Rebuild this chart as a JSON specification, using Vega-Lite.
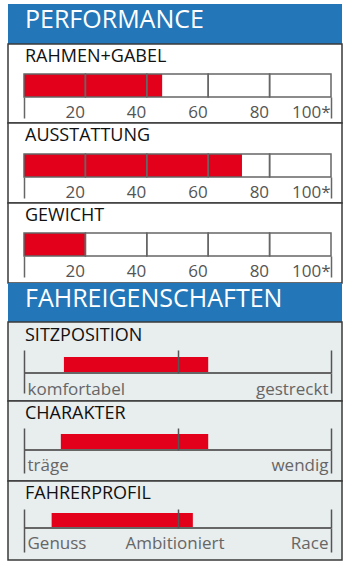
{
  "$schema": "https://vega.github.io/schema/vega-lite/v6.json",
  "padding": {"left": 7, "top": 4, "right": 0, "bottom": 0},
  "background": "white",
  "bounds": "flush",
  "spacing": 0,
  "config": {
    "view": {"stroke": "#3a3a3a", "strokeWidth": 1.5},
    "font": "Open Sans",
    "title": {"font": "Open Sans", "fontWeight": "normal", "anchor": "start", "frame": "group", "orient": "top", "baseline": "alphabetic"}
  },
  "datasets": {
    "headers": [{"section": "PERFORMANCE"}, {"section": "FAHREIGENSCHAFTEN"}],
    "performance": [
      {"metric": "RAHMEN+GABEL", "score": 45},
      {"metric": "AUSSTATTUNG", "score": 71},
      {"metric": "GEWICHT", "score": 20}
    ],
    "grid": [
      {"lo": 0, "hi": 20}, {"lo": 20, "hi": 40}, {"lo": 40, "hi": 60}, {"lo": 60, "hi": 80}, {"lo": 80, "hi": 100}
    ],
    "traits": [
      {"trait": "SITZPOSITION", "from": 13, "to": 60},
      {"trait": "CHARAKTER", "from": 12, "to": 60},
      {"trait": "FAHRERPROFIL", "from": 9, "to": 55}
    ]
  },
  "vconcat": [
    {
      "data": {"name": "headers"},
      "transform": [{"filter": "datum.section == 'PERFORMANCE'"}],
      "width": 334, "height": 40,
      "view": {"fill": "#2377b8"},
      "title": {"text": "PERFORMANCE", "fontSize": 25, "color": "white", "offset": -29, "dx": 17},
      "mark": {"type": "rect", "color": "#2377b8"}
    },
    {
      "width": 334, "height": 79,
      "view": {"fill": "white"},
      "title": {"text": "RAHMEN+GABEL", "fontSize": 18, "color": "#111111", "offset": -22, "dx": 17},
      "resolve": {"axis": {"x": "independent"}},
      "layer": [
        {
          "data": {"name": "performance"},
          "transform": [{"filter": "datum.metric == 'RAHMEN+GABEL'"}],
          "mark": {"type": "bar", "color": "#e2001a"},
          "encoding": {
            "x": {"field": "score", "type": "quantitative",
              "scale": {"domain": [0, 100], "range": [16, 323], "nice": false},
              "axis": {"orient": "bottom", "offset": -26, "values": [0, 20, 40, 60, 80, 100], "domain": false, "grid": false,
                "tickSize": 21, "tickWidth": 1.5, "tickColor": "#666666",
                "tickOpacity": {"condition": {"test": "datum.value == 0 || datum.value == 100", "value": 1}, "value": 0},
                "labelExpr": "datum.value == 0 ? '' : datum.value == 100 ? '100*' : datum.label",
                "labelAlign": "right", "labelBaseline": "alphabetic", "labelPadding": -1, "labelOffset": -1,
                "labelFont": "Open Sans", "labelFontSize": 17, "labelColor": "#555555",
                "labelFlush": false, "labelOverlap": false, "labelBound": false, "title": null, "zindex": 1}},
            "y": {"field": "metric", "type": "nominal", "scale": {"range": [30, 53], "paddingInner": 0, "paddingOuter": 0}, "axis": null}
          }
        },
        {
          "data": {"name": "grid"},
          "mark": {"type": "rect", "fill": "transparent", "stroke": "#666666", "strokeWidth": 1.5},
          "encoding": {
            "x": {"field": "lo", "type": "quantitative", "axis": null},
            "x2": {"field": "hi"},
            "y": {"datum": "RAHMEN+GABEL", "type": "nominal"}
          }
        }
      ]
    },
    {
      "width": 334, "height": 80,
      "view": {"fill": "white"},
      "title": {"text": "AUSSTATTUNG", "fontSize": 18, "color": "#111111", "offset": -22, "dx": 17},
      "resolve": {"axis": {"x": "independent"}},
      "layer": [
        {
          "data": {"name": "performance"},
          "transform": [{"filter": "datum.metric == 'AUSSTATTUNG'"}],
          "mark": {"type": "bar", "color": "#e2001a"},
          "encoding": {
            "x": {"field": "score", "type": "quantitative",
              "scale": {"domain": [0, 100], "range": [16, 323], "nice": false},
              "axis": {"orient": "bottom", "offset": -26, "values": [0, 20, 40, 60, 80, 100], "domain": false, "grid": false,
                "tickSize": 21, "tickWidth": 1.5, "tickColor": "#666666",
                "tickOpacity": {"condition": {"test": "datum.value == 0 || datum.value == 100", "value": 1}, "value": 0},
                "labelExpr": "datum.value == 0 ? '' : datum.value == 100 ? '100*' : datum.label",
                "labelAlign": "right", "labelBaseline": "alphabetic", "labelPadding": -1, "labelOffset": -1,
                "labelFont": "Open Sans", "labelFontSize": 17, "labelColor": "#555555",
                "labelFlush": false, "labelOverlap": false, "labelBound": false, "title": null, "zindex": 1}},
            "y": {"field": "metric", "type": "nominal", "scale": {"range": [31, 54], "paddingInner": 0, "paddingOuter": 0}, "axis": null}
          }
        },
        {
          "data": {"name": "grid"},
          "mark": {"type": "rect", "fill": "transparent", "stroke": "#666666", "strokeWidth": 1.5},
          "encoding": {
            "x": {"field": "lo", "type": "quantitative", "axis": null},
            "x2": {"field": "hi"},
            "y": {"datum": "AUSSTATTUNG", "type": "nominal"}
          }
        }
      ]
    },
    {
      "width": 334, "height": 80,
      "view": {"fill": "white"},
      "title": {"text": "GEWICHT", "fontSize": 18, "color": "#111111", "offset": -22, "dx": 17},
      "resolve": {"axis": {"x": "independent"}},
      "layer": [
        {
          "data": {"name": "performance"},
          "transform": [{"filter": "datum.metric == 'GEWICHT'"}],
          "mark": {"type": "bar", "color": "#e2001a"},
          "encoding": {
            "x": {"field": "score", "type": "quantitative",
              "scale": {"domain": [0, 100], "range": [16, 323], "nice": false},
              "axis": {"orient": "bottom", "offset": -27, "values": [0, 20, 40, 60, 80, 100], "domain": false, "grid": false,
                "tickSize": 21, "tickWidth": 1.5, "tickColor": "#666666",
                "tickOpacity": {"condition": {"test": "datum.value == 0 || datum.value == 100", "value": 1}, "value": 0},
                "labelExpr": "datum.value == 0 ? '' : datum.value == 100 ? '100*' : datum.label",
                "labelAlign": "right", "labelBaseline": "alphabetic", "labelPadding": -1, "labelOffset": -1,
                "labelFont": "Open Sans", "labelFontSize": 17, "labelColor": "#555555",
                "labelFlush": false, "labelOverlap": false, "labelBound": false, "title": null, "zindex": 1}},
            "y": {"field": "metric", "type": "nominal", "scale": {"range": [30, 53], "paddingInner": 0, "paddingOuter": 0}, "axis": null}
          }
        },
        {
          "data": {"name": "grid"},
          "mark": {"type": "rect", "fill": "transparent", "stroke": "#666666", "strokeWidth": 1.5},
          "encoding": {
            "x": {"field": "lo", "type": "quantitative", "axis": null},
            "x2": {"field": "hi"},
            "y": {"datum": "GEWICHT", "type": "nominal"}
          }
        }
      ]
    },
    {
      "data": {"name": "headers"},
      "transform": [{"filter": "datum.section == 'FAHREIGENSCHAFTEN'"}],
      "width": 334, "height": 39,
      "view": {"fill": "#2377b8"},
      "title": {"text": "FAHREIGENSCHAFTEN", "fontSize": 25, "color": "white", "offset": -29, "dx": 17},
      "mark": {"type": "rect", "color": "#2377b8"}
    },
    {
      "data": {"name": "traits"},
      "transform": [{"filter": "datum.trait == 'SITZPOSITION'"}],
      "width": 334, "height": 79,
      "view": {"fill": "#e8edee"},
      "title": {"text": "SITZPOSITION", "fontSize": 18, "color": "#111111", "offset": -23, "dx": 17},
      "resolve": {"axis": {"x": "independent"}},
      "layer": [
        {
          "mark": {"type": "bar", "color": "#e2001a"},
          "encoding": {
            "x": {"field": "from", "type": "quantitative",
              "scale": {"domain": [0, 100], "range": [16, 323], "nice": false},
              "axis": {"orient": "bottom", "offset": -28, "values": [0, 50, 100], "domain": false, "grid": false, "labels": false,
                "tickSize": -23, "tickWidth": 1.5, "tickColor": "#555555", "title": null, "zindex": 1}},
            "x2": {"field": "to"},
            "y": {"field": "trait", "type": "nominal", "scale": {"range": [35, 51], "paddingInner": 0, "paddingOuter": 0}, "axis": null}
          }
        },
        {
          "mark": {"type": "rule", "color": "#666666", "strokeWidth": 2},
          "encoding": {
            "x": {"datum": 0, "type": "quantitative",
              "axis": {"orient": "bottom", "offset": -28, "values": [0, 50, 100], "domain": false, "grid": false,
                "tickSize": 20, "tickWidth": 1.5, "tickColor": "#555555",
                "tickOpacity": {"condition": {"test": "datum.value == 50", "value": 0}, "value": 1},
                "labelExpr": "datum.value == 0 ? 'komfortabel' : datum.value == 100 ? 'gestreckt' : ''",
                "labelAlign": {"condition": [{"test": "datum.value == 0", "value": "left"}, {"test": "datum.value == 100", "value": "right"}], "value": "center"},
                "labelOffset": {"condition": {"test": "datum.value == 0", "value": 3}, "value": -3},
                "labelBaseline": "alphabetic", "labelPadding": 1,
                "labelFont": "Open Sans", "labelFontSize": 17, "labelColor": "#666666",
                "labelFlush": false, "labelOverlap": false, "labelBound": false, "title": null, "zindex": 1}},
            "x2": {"datum": 100},
            "y": {"field": "trait", "type": "nominal", "bandPosition": 1}
          }
        }
      ]
    },
    {
      "data": {"name": "traits"},
      "transform": [{"filter": "datum.trait == 'CHARAKTER'"}],
      "width": 334, "height": 80,
      "view": {"fill": "#e8edee"},
      "title": {"text": "CHARAKTER", "fontSize": 18, "color": "#111111", "offset": -22, "dx": 17},
      "resolve": {"axis": {"x": "independent"}},
      "layer": [
        {
          "mark": {"type": "bar", "color": "#e2001a"},
          "encoding": {
            "x": {"field": "from", "type": "quantitative",
              "scale": {"domain": [0, 100], "range": [16, 323], "nice": false},
              "axis": {"orient": "bottom", "offset": -31, "values": [0, 50, 100], "domain": false, "grid": false, "labels": false,
                "tickSize": -22, "tickWidth": 1.5, "tickColor": "#555555", "title": null, "zindex": 1}},
            "x2": {"field": "to"},
            "y": {"field": "trait", "type": "nominal", "scale": {"range": [33, 49], "paddingInner": 0, "paddingOuter": 0}, "axis": null}
          }
        },
        {
          "mark": {"type": "rule", "color": "#666666", "strokeWidth": 2},
          "encoding": {
            "x": {"datum": 0, "type": "quantitative",
              "axis": {"orient": "bottom", "offset": -31, "values": [0, 50, 100], "domain": false, "grid": false,
                "tickSize": 23, "tickWidth": 1.5, "tickColor": "#555555",
                "tickOpacity": {"condition": {"test": "datum.value == 50", "value": 0}, "value": 1},
                "labelExpr": "datum.value == 0 ? 'träge' : datum.value == 100 ? 'wendig' : ''",
                "labelAlign": {"condition": [{"test": "datum.value == 0", "value": "left"}, {"test": "datum.value == 100", "value": "right"}], "value": "center"},
                "labelOffset": {"condition": {"test": "datum.value == 0", "value": 3}, "value": -3},
                "labelBaseline": "alphabetic", "labelPadding": -3,
                "labelFont": "Open Sans", "labelFontSize": 17, "labelColor": "#666666",
                "labelFlush": false, "labelOverlap": false, "labelBound": false, "title": null, "zindex": 1}},
            "x2": {"datum": 100},
            "y": {"field": "trait", "type": "nominal", "bandPosition": 1}
          }
        }
      ]
    },
    {
      "data": {"name": "traits"},
      "transform": [{"filter": "datum.trait == 'FAHRERPROFIL'"}],
      "width": 334, "height": 79,
      "view": {"fill": "#e8edee"},
      "title": {"text": "FAHRERPROFIL", "fontSize": 18, "color": "#111111", "offset": -22, "dx": 17},
      "resolve": {"axis": {"x": "independent"}},
      "layer": [
        {
          "mark": {"type": "bar", "color": "#e2001a"},
          "encoding": {
            "x": {"field": "from", "type": "quantitative",
              "scale": {"domain": [0, 100], "range": [16, 323], "nice": false},
              "axis": {"orient": "bottom", "offset": -32, "values": [0, 50, 100], "domain": false, "grid": false, "labels": false,
                "tickSize": -19, "tickWidth": 1.5, "tickColor": "#555555", "title": null, "zindex": 1}},
            "x2": {"field": "to"},
            "y": {"field": "trait", "type": "nominal", "scale": {"range": [32, 47], "paddingInner": 0, "paddingOuter": 0}, "axis": null}
          }
        },
        {
          "mark": {"type": "rule", "color": "#666666", "strokeWidth": 2},
          "encoding": {
            "x": {"datum": 0, "type": "quantitative",
              "axis": {"orient": "bottom", "offset": -32, "values": [0, 50, 100], "domain": false, "grid": false,
                "tickSize": 24, "tickWidth": 1.5, "tickColor": "#555555",
                "labelExpr": "datum.value == 0 ? 'Genuss' : datum.value == 100 ? 'Race' : 'Ambitioniert'",
                "tickOpacity": {"condition": {"test": "datum.value == 50", "value": 0}, "value": 1},
                "labelAlign": {"condition": [{"test": "datum.value == 0", "value": "left"}, {"test": "datum.value == 100", "value": "right"}], "value": "center"},
                "labelOffset": {"condition": {"test": "datum.value == 0", "value": 3}, "value": -3},
                "labelBaseline": "alphabetic", "labelPadding": -4,
                "labelFont": "Open Sans", "labelFontSize": 17, "labelColor": "#666666",
                "labelFlush": false, "labelOverlap": false, "labelBound": false, "title": null, "zindex": 1}},
            "x2": {"datum": 100},
            "y": {"field": "trait", "type": "nominal", "bandPosition": 1}
          }
        }
      ]
    }
  ]
}
